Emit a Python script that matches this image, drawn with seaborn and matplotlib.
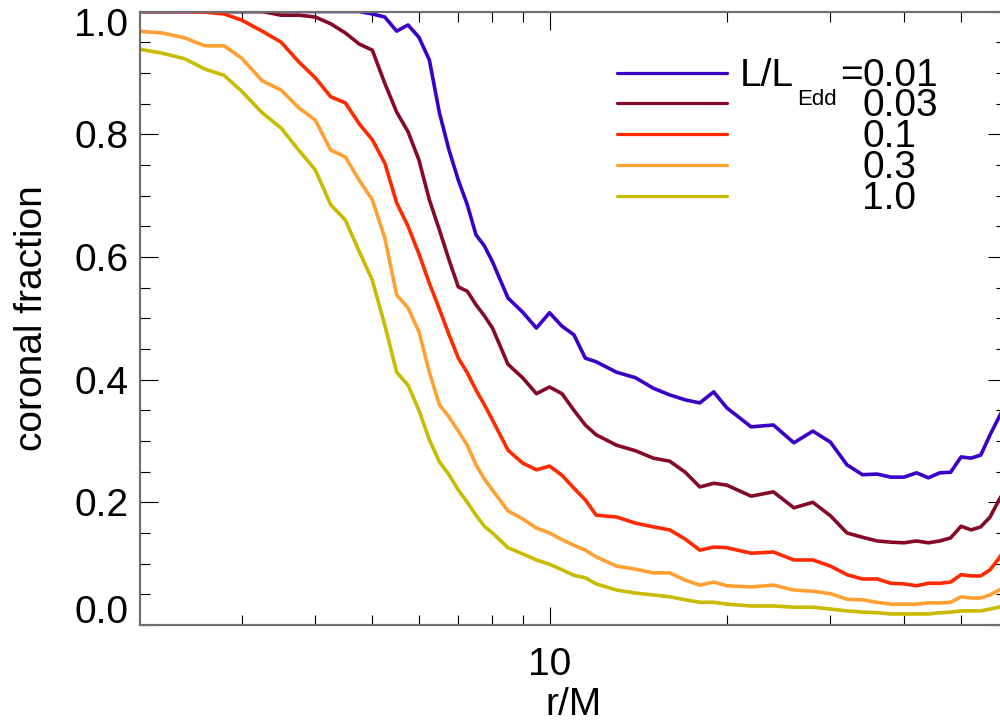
import matplotlib
matplotlib.use("Agg")
import matplotlib.pyplot as plt
import matplotlib.transforms as mtransforms
import numpy as np
import pandas as pd
import seaborn as sns
from matplotlib.ticker import FixedLocator, NullFormatter

# Radius grid (r/M) and coronal fraction for each Eddington ratio
radius = [2.0, 2.2, 2.4, 2.6, 2.8, 3.0, 3.25, 3.5, 3.75, 4.0, 4.25, 4.5, 4.75,
          5.0, 5.25, 5.5, 5.75, 6.0, 6.25, 6.5, 6.75, 7.0, 7.25, 7.5, 7.75, 8.0,
          8.5, 9.0, 9.5, 10, 10.5, 11, 11.5, 12, 13, 14, 15, 16, 17, 18, 19, 20,
          22, 24, 26, 28, 30, 32, 34, 36, 38, 40, 42, 44, 46, 48, 50, 52, 54, 56,
          58, 60]

frac_001 = [1.0, 1.0, 1.0, 1.0, 1.0, 1.0, 1.0, 1.0, 1.0, 1.0, 1.0, 1.0, 1.0,
            0.996, 0.991, 0.968, 0.978, 0.958, 0.921, 0.835, 0.774, 0.725, 0.685,
            0.636, 0.618, 0.592, 0.533, 0.510, 0.484, 0.509, 0.487, 0.473, 0.435,
            0.429, 0.412, 0.403, 0.386, 0.375, 0.367, 0.362, 0.380, 0.354, 0.323,
            0.326, 0.297, 0.316, 0.298, 0.261, 0.245, 0.246, 0.241, 0.241, 0.248,
            0.240, 0.248, 0.249, 0.274, 0.272, 0.277, 0.310, 0.339, 0.367]

frac_003 = [1.0, 1.0, 1.0, 1.0, 1.0, 1.0, 1.0, 0.994, 0.994, 0.991, 0.980, 0.965,
            0.947, 0.937, 0.883, 0.836, 0.804, 0.758, 0.693, 0.644, 0.595, 0.551,
            0.544, 0.522, 0.504, 0.484, 0.425, 0.403, 0.377, 0.388, 0.377, 0.350,
            0.326, 0.310, 0.293, 0.284, 0.272, 0.267, 0.249, 0.225, 0.231, 0.228,
            0.210, 0.217, 0.191, 0.200, 0.178, 0.150, 0.143, 0.137, 0.135, 0.134,
            0.137, 0.134, 0.137, 0.142, 0.161, 0.155, 0.160, 0.176, 0.204, 0.228]

frac_01 = [1.0, 1.0, 1.0, 0.999, 0.996, 0.986, 0.968, 0.950, 0.918, 0.892, 0.861,
           0.851, 0.817, 0.791, 0.753, 0.688, 0.650, 0.605, 0.557, 0.515, 0.473,
           0.435, 0.411, 0.383, 0.359, 0.334, 0.285, 0.264, 0.253, 0.259, 0.244,
           0.223, 0.204, 0.179, 0.176, 0.166, 0.160, 0.155, 0.140, 0.122, 0.127,
           0.126, 0.117, 0.119, 0.106, 0.106, 0.096, 0.082, 0.075, 0.075, 0.068,
           0.067, 0.064, 0.068, 0.068, 0.070, 0.082, 0.080, 0.080, 0.090, 0.109,
           0.130]

frac_03 = [0.968, 0.965, 0.957, 0.944, 0.944, 0.924, 0.887, 0.872, 0.843, 0.823,
           0.774, 0.763, 0.725, 0.693, 0.631, 0.538, 0.517, 0.478, 0.412, 0.359,
           0.339, 0.316, 0.293, 0.261, 0.238, 0.220, 0.186, 0.173, 0.158, 0.150,
           0.139, 0.130, 0.122, 0.111, 0.096, 0.091, 0.085, 0.085, 0.073, 0.065,
           0.070, 0.064, 0.062, 0.065, 0.057, 0.055, 0.051, 0.042, 0.041, 0.037,
           0.034, 0.034, 0.034, 0.036, 0.036, 0.037, 0.046, 0.044, 0.044, 0.049,
           0.057, 0.065]

frac_10 = [0.939, 0.932, 0.923, 0.906, 0.896, 0.870, 0.835, 0.810, 0.774, 0.742,
           0.685, 0.660, 0.609, 0.562, 0.489, 0.412, 0.391, 0.350, 0.302, 0.266,
           0.245, 0.220, 0.200, 0.179, 0.161, 0.150, 0.126, 0.116, 0.106, 0.099,
           0.090, 0.081, 0.077, 0.067, 0.057, 0.052, 0.049, 0.046, 0.041, 0.037,
           0.037, 0.034, 0.031, 0.031, 0.029, 0.029, 0.026, 0.023, 0.021, 0.020,
           0.018, 0.018, 0.018, 0.018, 0.020, 0.021, 0.023, 0.023, 0.023, 0.026,
           0.029, 0.034]

lum_labels = ["0.01", "0.03", "0.1", "0.3", "1.0"]
series = [frac_001, frac_003, frac_01, frac_03, frac_10]
line_colors = ["#3a00c8", "#850a28", "#ff2a00", "#ffa033", "#c8bb00"]

y_ticks = [0.0, 0.2, 0.4, 0.6, 0.8, 1.0]
y_ticklabels = ["0.0", "0.2", "0.4", "0.6", "0.8", "1.0"]

df = pd.concat(
    [pd.DataFrame({"r": radius, "frac": vals, "lum": lab})
     for lab, vals in zip(lum_labels, series)],
    ignore_index=True,
)

sns.set_style("ticks")
plt.rcParams["font.family"] = ["Liberation Sans", "DejaVu Sans"]
for key in ("text.color", "axes.labelcolor", "xtick.color", "ytick.color"):
    plt.rcParams[key] = "black"

W, H = 1000, 723
fig = plt.figure(figsize=(W / 100, H / 100), dpi=100)
ax_left, ax_right, ax_top, ax_bottom = 140, 1006, 11.5, 625
ax = fig.add_axes([ax_left / W, 1 - ax_bottom / H,
                   (ax_right - ax_left) / W, (ax_bottom - ax_top) / H])

sns.lineplot(data=df, x="r", y="frac", hue="lum", hue_order=lum_labels,
             palette=line_colors, linewidth=2.6, legend=False,
             estimator=None, sort=False, ax=ax)

ax.set_xscale("log")
ax.set_xlim(2.0157, 59.6)
ax.set_ylim(0.0, 1.0)

ax.xaxis.set_major_locator(FixedLocator([10]))
ax.set_xticklabels(["10"])
ax.xaxis.set_minor_locator(FixedLocator([3, 4, 5, 6, 7, 8, 9, 20, 30, 40, 50]))
ax.xaxis.set_minor_formatter(NullFormatter())
ax.yaxis.set_major_locator(FixedLocator(y_ticks))
ax.set_yticklabels(y_ticklabels)
ax.yaxis.set_minor_locator(FixedLocator(np.arange(0.05, 1.0, 0.05)))

ax.tick_params(which="both", direction="in", top=True, right=True,
               color="black", labelcolor="black", width=0.8, labelsize=28)
ax.tick_params(which="major", length=13)
ax.tick_params(which="minor", length=7)
ax.tick_params(axis="y", which="major", pad=8.5)
ax.tick_params(axis="x", which="major", pad=15.5)

# the end labels sit inside the axis range
ylabels = ax.get_yticklabels()
shift_down = mtransforms.ScaledTranslation(0, -10 / 100, fig.dpi_scale_trans)
shift_up = mtransforms.ScaledTranslation(0, 16 / 100, fig.dpi_scale_trans)
ylabels[-1].set_transform(ylabels[-1].get_transform() + shift_down)
ylabels[0].set_transform(ylabels[0].get_transform() + shift_up)

for sp in ax.spines.values():
    sp.set_color("#707070")
    sp.set_linewidth(1.6)

ax.set_xlabel("r/M", fontsize=28)
ax.set_ylabel("coronal fraction", fontsize=28)
ax.xaxis.set_label_coords(0.5, (ax_bottom - 687) / (ax_bottom - ax_top))
ax.yaxis.set_label_coords((50 - ax_left) / (ax_right - ax_left), 0.5)

# Legend drawn as line samples with left-aligned values
def fx(px):
    return (px - ax_left) / (ax_right - ax_left)

def fy(py):
    return (ax_bottom - py) / (ax_bottom - ax_top)

row_y = [73, 103, 134, 165, 196]
for lab, col, yy in zip(lum_labels, line_colors, row_y):
    ax.plot([fx(617), fx(727)], [fy(yy), fy(yy)], color=col, lw=2.3,
            transform=ax.transAxes, clip_on=False)
    ax.text(fx(862), fy(yy + 13), lab, fontsize=28, ha="left", va="baseline",
            transform=ax.transAxes)
ax.text(fx(740), fy(row_y[0] + 13), "L/L", fontsize=28, ha="left",
        va="baseline", transform=ax.transAxes)
ax.text(fx(797), fy(105), "Edd", fontsize=16, ha="left", va="baseline",
        transform=ax.transAxes)
ax.text(fx(840), fy(row_y[0] + 13), "=", fontsize=28, ha="left",
        va="baseline", transform=ax.transAxes)

fig.savefig("out.png", dpi=100)
